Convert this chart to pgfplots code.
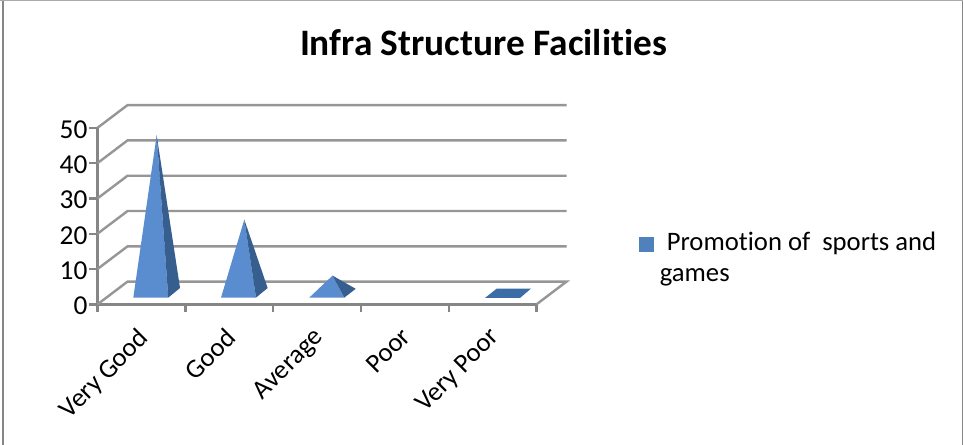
\documentclass[border=0pt]{standalone}
\usepackage{pgfplots}
\pgfplotsset{compat=1.18}
\usepackage{fontspec}
\setmainfont{Carlito}[Ligatures=NoCommon]
\definecolor{gridc}{HTML}{969696}
\definecolor{axisc}{HTML}{868686}
\definecolor{frontc}{HTML}{5A8DCF}
\definecolor{sidec}{HTML}{365F8F}
\definecolor{flatc}{HTML}{3B6CA6}
\definecolor{legc}{HTML}{4F81BD}
\begin{document}
\begin{tikzpicture}[x=0.75pt,y=0.75pt]
\useasboundingbox (0,0) rectangle (963,445);
\fill[white] (0,0) rectangle (963,445);
\draw[axisc,line width=1.4pt] (3,0) -- (3,445);
\draw[axisc,line width=1.2pt] (962.6,0) -- (962.6,445);
\draw[gridc!80,line width=1pt] (0,444.5) -- (963,444.5);
\node[font=\fontsize{28}{30}\selectfont\bfseries] at (483.5,402) {Infra Structure Facilities};
\begin{axis}[
  at={(73.125pt,105.5pt)}, anchor=origin,
  scale only axis, width=329.25pt, height=132.4pt,
  xmin=0, xmax=5, ymin=0, ymax=50, clip=false,
  axis y line=left, axis x line=bottom,
  axis line style={axisc,line width=1.8pt,-},
  every tick/.style={axisc,line width=1.8pt},
  tick align=outside, major tick length=6pt,
  xtick={0,1,2,3,4,5}, xticklabels={},
  ytick={0,10,20,30,40,50},
  extra x ticks={0.5,1.5,2.5,3.5,4.5},
  extra x tick labels={Very Good,Good,Average,Poor,Very Poor},
  extra x tick style={major tick length=0pt,
     xticklabel style={xshift=-3.6pt,yshift=-11.5pt,rotate=45,anchor=north east,font=\fontsize{20}{24}\selectfont}},
  yticklabel style={font=\fontsize{20.5}{24}\selectfont,xshift=2pt,yshift=-1.2pt},
  /pgf/number format/assume math mode=true,
  legend style={at={(axis cs:6.17,21.2)},anchor=north west,draw=none,fill=none,
     inner sep=0pt,font=\fontsize{20}{25}\selectfont,cells={anchor=base west}},
  legend image code/.code={\fill[legc] (0pt,-0.5pt) rectangle (11pt,10.5pt);},
]
% back wall gridlines and side-wall diagonals
\addplot[gridc,line width=1.8pt,forget plot] coordinates {(0,0) (0.342,6.43) (5.342,6.43) (5,0)};
\addplot[gridc,line width=1.8pt,forget plot] coordinates {(0,10) (0.342,16.43) (5.342,16.43)};
\addplot[gridc,line width=1.8pt,forget plot] coordinates {(0,20) (0.342,26.43) (5.342,26.43)};
\addplot[gridc,line width=1.8pt,forget plot] coordinates {(0,30) (0.342,36.43) (5.342,36.43)};
\addplot[gridc,line width=1.8pt,forget plot] coordinates {(0,40) (0.342,46.43) (5.342,46.43)};
\addplot[gridc,line width=1.8pt,forget plot] coordinates {(0,50) (0.342,56.43) (5.342,56.43)};
% Very Good
\addplot[fill=frontc,draw=none] coordinates {(0.408,1.9) (0.806,1.9) (0.674,47.9)} --cycle;
\addlegendentry{\hspace*{2.25pt}\parbox[t]{230pt}{\hspace*{5.25pt}Promotion of\ \ sports and\\[-2pt] games}}
\addplot[fill=sidec,draw=none,forget plot] coordinates {(0.806,1.9) (0.940,4.62) (0.674,47.9)} --cycle;
% Good
\addplot[fill=frontc,draw=none,forget plot] coordinates {(1.407,1.9) (1.805,1.9) (1.672,24.0)} --cycle;
\addplot[fill=sidec,draw=none,forget plot] coordinates {(1.805,1.9) (1.938,4.62) (1.672,24.0)} --cycle;
% Average
\addplot[fill=frontc,draw=none,forget plot] coordinates {(2.412,1.9) (2.811,1.9) (2.677,8.13)} --cycle;
\addplot[fill=sidec,draw=none,forget plot] coordinates {(2.811,1.9) (2.941,4.4) (2.677,8.13)} --cycle;
% Very Poor
\addplot[fill=flatc,draw=none,forget plot] coordinates {(4.413,1.8) (4.812,1.8) (4.937,4.45) (4.547,4.45)} --cycle;
\end{axis}
\end{tikzpicture}
\end{document}
